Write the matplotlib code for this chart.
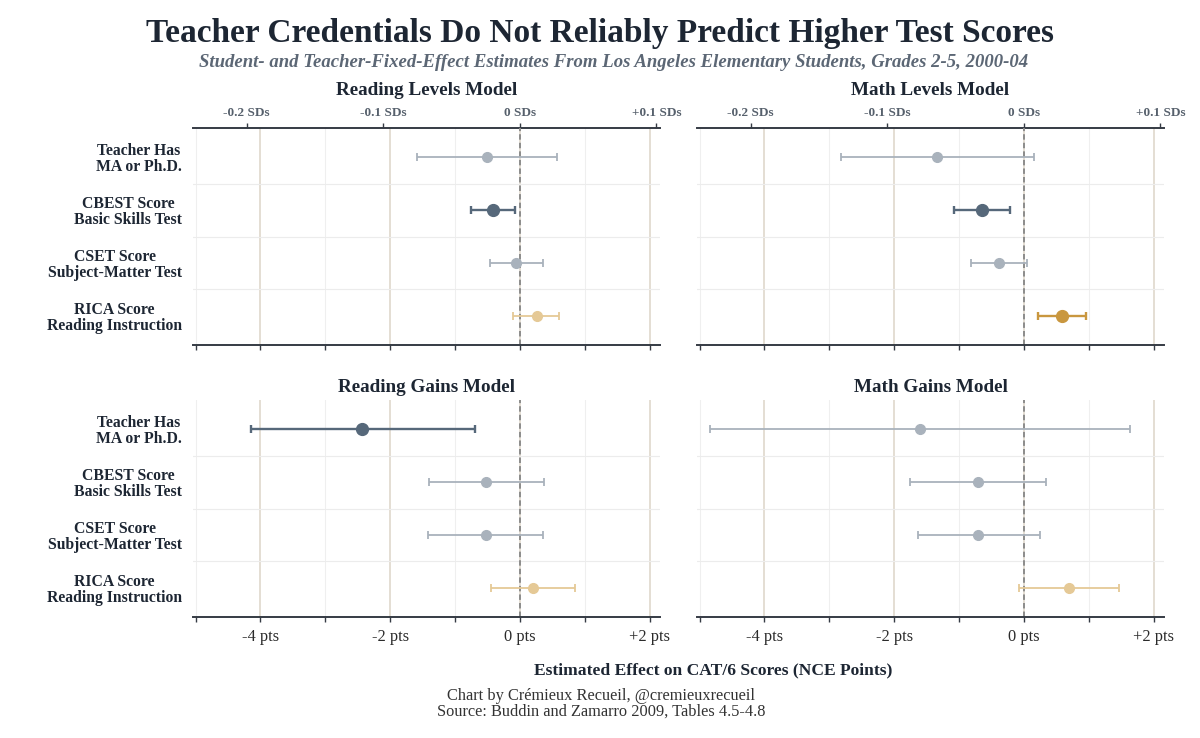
import numpy as np
import matplotlib
matplotlib.use("Agg")
import matplotlib.pyplot as plt

# ---- Data (NCE points) ----
rows = ["Teacher Has\nMA or Ph.D.", "CBEST Score\nBasic Skills Test",
        "CSET Score\nSubject-Matter Test", "RICA Score\nReading Instruction"]

reading_levels_est = [-0.51, -0.41, -0.06, 0.26]
reading_levels_lo = [-1.59, -0.75, -0.46, -0.10]
reading_levels_hi = [0.57, -0.07, 0.35, 0.60]
reading_levels_sig = [False, True, False, False]

math_levels_est = [-1.34, -0.65, -0.38, 0.58]
math_levels_lo = [-2.82, -1.08, -0.81, 0.21]
math_levels_hi = [0.16, -0.22, 0.05, 0.95]
math_levels_sig = [False, True, False, True]

reading_gains_est = [-2.43, -0.52, -0.53, 0.20]
reading_gains_lo = [-4.15, -1.40, -1.41, -0.45]
reading_gains_hi = [-0.69, 0.37, 0.35, 0.85]
reading_gains_sig = [True, False, False, False]

math_gains_est = [-1.60, -0.70, -0.70, 0.69]
math_gains_lo = [-4.84, -1.75, -1.64, -0.08]
math_gains_hi = [1.63, 0.34, 0.25, 1.47]
math_gains_sig = [False, False, False, False]

sd_ticks = [-0.2, -0.1, 0, 0.1]
sd_labels = ["-0.2 SDs", "-0.1 SDs", "0 SDs", "+0.1 SDs"]
pts_ticks = [-4, -2, 0, 2]
pts_labels = ["-4 pts", "-2 pts", "0 pts", "+2 pts"]
NCE_SD = 21.06

panels = [
    ("Reading Levels Model", reading_levels_est, reading_levels_lo, reading_levels_hi, reading_levels_sig),
    ("Math Levels Model", math_levels_est, math_levels_lo, math_levels_hi, math_levels_sig),
    ("Reading Gains Model", reading_gains_est, reading_gains_lo, reading_gains_hi, reading_gains_sig),
    ("Math Gains Model", math_gains_est, math_gains_lo, math_gains_hi, math_gains_sig),
]

# ---- Style ----
plt.rcParams["font.family"] = ["Liberation Serif", "DejaVu Serif"]
DARK = "#1d2633"
SPINE = "#353b44"
NEG, NEG_LIGHT = "#56687a", "#a9b2bc"
POS, POS_LIGHT = "#c9973f", "#e5c996"

fig = plt.figure(figsize=(12, 7.38), dpi=100)
W, H = 1200, 738
lefts = [193, 697]
width = 467
tops = [128, 400]
height = 217

for i, (title, est, lo, hi, sig) in enumerate(panels):
    col, row = i % 2, i // 2
    ax = fig.add_axes([lefts[col] / W, 1 - (tops[row] + height) / H, width / W, height / H])
    ax.set_xlim(-5.04, 2.16)
    ax.set_ylim(3.55, -0.55)

    # grid
    for x in [-4, -2, 0, 2]:
        ax.axvline(x, color="#ddd5c8", lw=1.1, zorder=0)
    for x in [-5, -3, -1, 1]:
        ax.axvline(x, color="#efefef", lw=0.8, zorder=0)
    for y in [0.5, 1.5, 2.5]:
        ax.axhline(y, color="#ececec", lw=0.8, zorder=0)
    ax.axvline(0, color="#8c8c8c", lw=1.4, ls=(0, (2.8, 1.6)), zorder=1)

    for j in range(len(est)):
        if est[j] < 0:
            c = NEG if sig[j] else NEG_LIGHT
        else:
            c = POS if sig[j] else POS_LIGHT
        lw = 1.7 if sig[j] else 1.3
        ms = 8.5 if sig[j] else 7
        ax.errorbar(est[j], j, xerr=[[est[j] - lo[j]], [hi[j] - est[j]]],
                    fmt="o", color=c, ms=ms, lw=lw, capsize=2.6, capthick=lw,
                    zorder=3)

    for s in ["left", "right", "top"]:
        ax.spines[s].set_visible(False)
    ax.spines["bottom"].set_color(SPINE)
    ax.spines["bottom"].set_linewidth(1.4)

    ax.set_xticks(pts_ticks)
    ax.set_xticks([-5, -3, -1, 1], minor=True)
    ax.tick_params(axis="x", which="both", direction="out", length=3.5, width=1,
                   color=SPINE, pad=5, labelsize=11.8, labelcolor="#2b2b2b")
    if row == 0:
        ax.set_xticklabels([])
        sec = ax.secondary_xaxis("top", functions=(lambda x: x / NCE_SD, lambda s: s * NCE_SD))
        sec.set_xticks(sd_ticks)
        sec.set_xticklabels(sd_labels)
        sec.tick_params(direction="out", length=3.5, width=1, color=SPINE, pad=3,
                        labelsize=9.5, labelcolor="#56606c")
        for t in sec.get_xticklabels():
            t.set_fontweight("bold")
        sec.spines["top"].set_color(SPINE)
        sec.spines["top"].set_linewidth(1.4)
        ty = 1 + (128 - 95) / height
    else:
        ax.set_xticklabels(pts_labels)
        ty = 1 + (400 - 392) / height

    ax.text(0.5, ty, title, transform=ax.transAxes, ha="center", va="baseline",
            fontsize=13.8, fontweight="bold", color=DARK)

    ax.set_yticks(range(len(rows)))
    if col == 0:
        ax.set_yticklabels(rows)
        for t in ax.get_yticklabels():
            t.set_multialignment("center")
            t.set_fontweight("bold")
            t.set_linespacing(1.0)
        ax.tick_params(axis="y", length=0, pad=8, labelsize=11.3, labelcolor=DARK)
    else:
        ax.set_yticklabels([])
        ax.tick_params(axis="y", length=0)

fig.text(600 / W, 1 - 42 / H, "Teacher Credentials Do Not Reliably Predict Higher Test Scores",
         ha="center", va="baseline", fontsize=24, fontweight="bold", color=DARK)
fig.text(614 / W, 1 - 67 / H,
         "Student- and Teacher-Fixed-Effect Estimates From Los Angeles Elementary Students, Grades 2-5, 2000-04",
         ha="center", va="baseline", fontsize=13.5, style="italic", fontweight="bold", color="#5c6775")
fig.text(713 / W, 1 - 674 / H, "Estimated Effect on CAT/6 Scores (NCE Points)",
         ha="center", va="baseline", fontsize=12.6, fontweight="bold", color=DARK)
fig.text(601 / W, 1 - 688 / H,
         "Chart by Crémieux Recueil, @cremieuxrecueil\nSource: Buddin and Zamarro 2009, Tables 4.5-4.8",
         ha="center", va="top", fontsize=11.8, color="#333333", linespacing=0.95)

fig.savefig("out.png", dpi=100, facecolor="white")
